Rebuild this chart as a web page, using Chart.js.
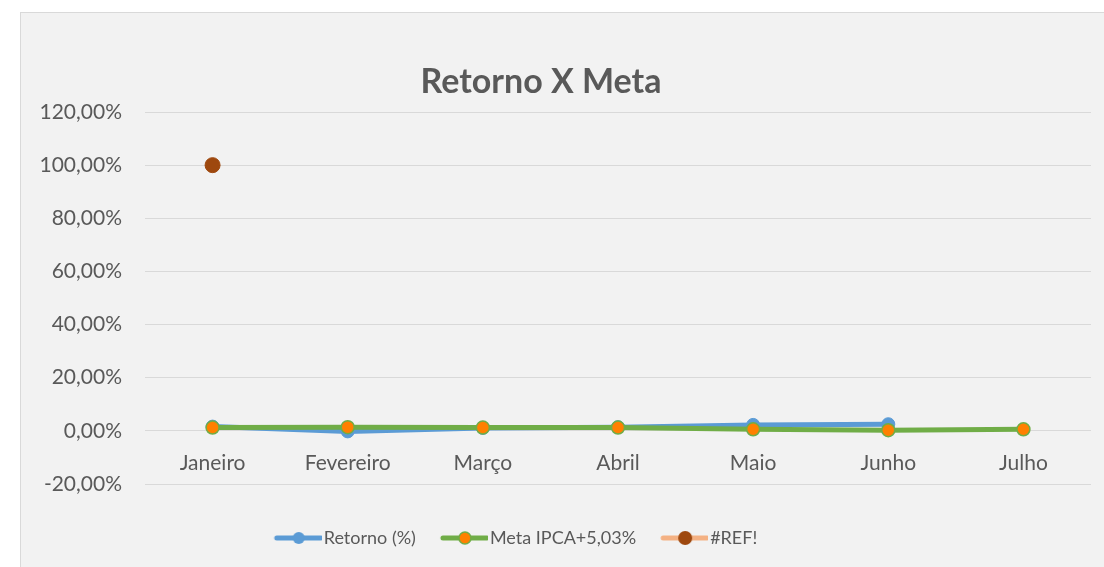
<!DOCTYPE html>
<html>
<head>
<meta charset="utf-8">
<script src="https://cdn.jsdelivr.net/npm/chart.js@4.4.1/dist/chart.umd.min.js"></script>
<style>
  html, body { margin: 0; padding: 0; background: #ffffff; }
  #box {
    position: absolute; left: 20px; top: 12px; width: 1083px; height: 554px;
    background: #f2f2f2; border-left: 1px solid #d9d9d9; border-top: 1px solid #d9d9d9;
  }
  canvas { display: block; }
</style>
</head>
<body>
<div id="box"><canvas id="c" width="1083" height="554"></canvas></div>
<script>
const categories = ['Janeiro', 'Fevereiro', 'Março', 'Abril', 'Maio', 'Junho', 'Julho'];
const retorno = [0.016, -0.002, 0.011, 0.014, 0.0225, 0.025, null];
const meta = [0.0125, 0.014, 0.0125, 0.0125, 0.006, 0.0025, 0.006];
const refErr = [1.0, null, null, null, null, null, null];
const seriesNames = ['Retorno (%)', 'Meta IPCA+5,03%', '#REF!'];
const chartTitle = 'Retorno X Meta';
const yMin = -0.2, yMax = 1.2, yStep = 0.2;

const BLUE = '#5b9bd5', GREEN = '#70ad47', ORANGE = '#ff8000', SALMON = '#f4b183', BROWN = '#9e480e';
const TXT = '#595959';
const FONT = 'Lato, "Open Sans", sans-serif';

function fmtPct(v) {
  let p = Math.round(v * 10000) / 100;
  if (Math.abs(p) < 1e-9) p = 0;
  return p.toFixed(2).replace('.', ',') + '%';
}

function legendIcon(lineColor, fill, border, r) {
  const W = 54, H = 18;
  const c = document.createElement('canvas');
  c.width = W; c.height = H;
  const g = c.getContext('2d');
  g.strokeStyle = lineColor; g.lineWidth = 5; g.lineCap = 'round';
  g.beginPath(); g.moveTo(W - 45, H / 2); g.lineTo(W - 1, H / 2); g.stroke();
  g.beginPath(); g.arc(W - 23, H / 2, r, 0, Math.PI * 2);
  g.fillStyle = fill; g.fill();
  if (border) { g.lineWidth = 1.5; g.strokeStyle = border; g.stroke(); }
  return c;
}
const icons = [
  legendIcon(BLUE, BLUE, null, 6),
  legendIcon(GREEN, ORANGE, GREEN, 6),
  legendIcon(SALMON, BROWN, null, 7)
];

const titlePlugin = {
  id: 'fixedTitle',
  afterLayout(chart) {
    // legend in the reference sits left of the canvas centre
    chart.legend.left -= 40;
    chart.legend.right -= 40;
  },
  afterDraw(chart) {
    const g = chart.ctx;
    g.save();
    g.font = 'bold 34px ' + FONT;
    g.fillStyle = TXT;
    g.textAlign = 'center';
    g.textBaseline = 'alphabetic';
    g.fillText(chartTitle, 520, 80);
    g.restore();
  }
};

new Chart(document.getElementById('c'), {
  type: 'line',
  data: {
    labels: categories,
    datasets: [
      { label: seriesNames[0], data: retorno, borderColor: BLUE, backgroundColor: BLUE,
        borderWidth: 5, pointRadius: 6.5, pointBackgroundColor: BLUE, pointBorderColor: BLUE,
        pointBorderWidth: 1, tension: 0, order: 3, spanGaps: false },
      { label: seriesNames[1], data: meta, borderColor: GREEN, backgroundColor: ORANGE,
        borderWidth: 5, pointRadius: 6.5, pointBackgroundColor: ORANGE, pointBorderColor: GREEN,
        pointBorderWidth: 1.5, tension: 0, order: 2 },
      { label: seriesNames[2], data: refErr, borderColor: SALMON, backgroundColor: BROWN,
        borderWidth: 5, pointRadius: 7.5, pointBackgroundColor: BROWN, pointBorderColor: BROWN,
        pointBorderWidth: 1, tension: 0, order: 1 }
    ]
  },
  options: {
    responsive: false,
    animation: false,
    devicePixelRatio: 1,
    layout: { padding: { top: 99, right: 13, bottom: 10, left: 0 } },
    plugins: {
      title: { display: false },
      tooltip: { enabled: false },
      legend: {
        display: true,
        position: 'bottom',
        labels: {
          usePointStyle: true,
          pointStyleWidth: 40,
          boxHeight: 18,
          padding: 25,
          color: TXT,
          font: { family: FONT, size: 18 },
          generateLabels(chart) {
            return chart.data.datasets.map((d, i) => ({
              text: d.label,
              pointStyle: icons[i],
              fillStyle: 'transparent',
              strokeStyle: 'transparent',
              lineWidth: 0,
              fontColor: TXT,
              hidden: false,
              datasetIndex: i
            }));
          }
        }
      }
    },
    scales: {
      x: {
        position: { y: 0 },
        offset: true,
        grid: { display: false, drawTicks: false },
        border: { display: false },
        ticks: { color: TXT, font: { family: FONT, size: 21 }, padding: 20, maxRotation: 0 }
      },
      xGap: {
        type: 'category',
        labels: categories,
        position: 'bottom',
        grid: { display: false, drawTicks: false },
        border: { display: false },
        ticks: { display: false },
        afterFit(s) { s.height = 20; }
      },
      y: {
        min: yMin, max: yMax,
        grid: { color: '#d9d9d9', lineWidth: 1, drawTicks: false },
        border: { display: false },
        ticks: {
          stepSize: yStep, color: TXT, padding: 23,
          font: { family: FONT, size: 21 },
          callback: (v) => fmtPct(v)
        },
        afterFit(s) { s.width = 124; }
      }
    }
  },
  plugins: [titlePlugin]
});
</script>
</body>
</html>
